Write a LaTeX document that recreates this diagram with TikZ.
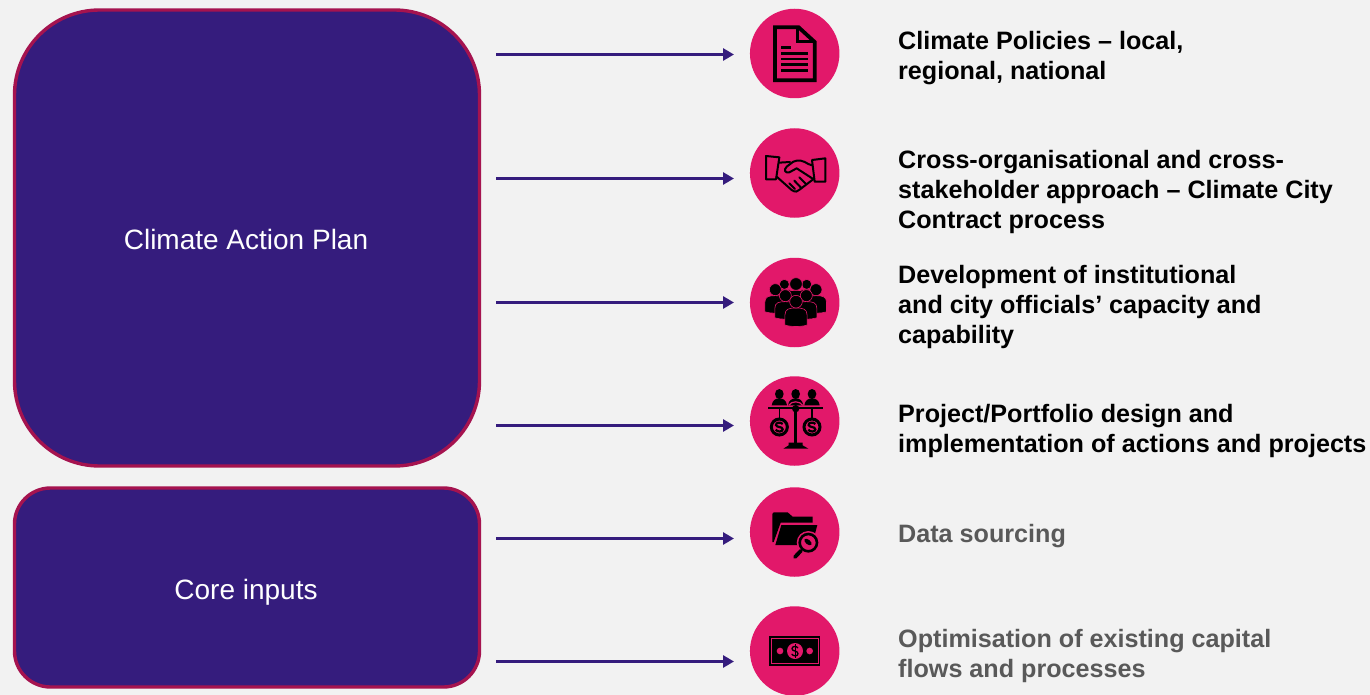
\documentclass[tikz,border=0pt]{standalone}
\usepackage{fontspec}
\setmainfont{Liberation Sans}
\usetikzlibrary{arrows.meta}
\definecolor{bg}{HTML}{F2F2F2}
\definecolor{boxfill}{HTML}{351C7D}
\definecolor{boxedge}{HTML}{A5134F}
\definecolor{pinkc}{HTML}{E2186A}
\definecolor{graytxt}{HTML}{595959}
\tikzset{
  planbox/.style={draw=boxedge,fill=boxfill,line width=3.4pt,minimum width=465pt,inner sep=0pt},
  plantext/.style={text=white,font=\fontsize{28}{32}\selectfont,inner sep=0pt},
  badge/.style={circle,fill=pinkc,minimum size=89.5pt,inner sep=0pt},
  flow/.style={draw=boxfill,line width=3.2pt,-{Triangle[length=11pt,width=12pt]}},
  lab/.style={anchor=west,align=left,inner sep=0pt,font=\fontsize{25.15}{30}\selectfont\bfseries,text=black},
  labgray/.style={lab,text=graytxt},
  ink/.style={draw=black,line cap=butt},
  inkfill/.style={fill=black,draw=none}
}
\newcommand{\prsn}[3]{%
  \path[fill=black,draw=pinkc,line width=.6pt]
    ({#1-1.75*#3},{#2+3.7*#3}) -- ({#1-1.75*#3},{#2+2.1*#3})
    .. controls ({#1-1.75*#3},{#2+1.1*#3}) and ({#1-1*#3},{#2+1*#3}) .. ({#1},{#2+1*#3})
    .. controls ({#1+1*#3},{#2+1*#3}) and ({#1+1.75*#3},{#2+1.1*#3}) .. ({#1+1.75*#3},{#2+2.1*#3})
    -- ({#1+1.75*#3},{#2+3.7*#3})
    .. controls ({#1+.7*#3},{#2+4*#3}) and ({#1-.7*#3},{#2+4*#3}) .. cycle;
  \path[fill=black,draw=pinkc,line width=.6pt] (#1,#2) circle[radius=#3];}
\newcommand{\coin}[2]{%
  \draw[line width=3pt,draw=black,fill=pinkc] (#1,#2) circle[radius=24];
  \draw[line width=2.2pt,draw=black]
    ({#1+10},{#2-9}) .. controls ({#1+4},{#2-16}) and ({#1-11},{#2-14}) .. ({#1-10},{#2-6})
    .. controls ({#1-9},{#2+2}) and ({#1+10},{#2-2}) .. ({#1+10},{#2+7})
    .. controls ({#1+10},{#2+15}) and ({#1-6},{#2+16}) .. ({#1-11},{#2+8});}
\begin{document}
\begin{tikzpicture}[x=1pt,y=-1pt]
\useasboundingbox[fill=bg] (0,0) rectangle (1370,695);
% left panels
\node[planbox,minimum height=456pt,rounded corners=85pt] (plan) at (247,238) {};
\node[plantext] (plantxt) at (246,239) {Climate Action Plan};
\node[planbox,minimum height=199pt,rounded corners=36pt] (core) at (247,587.5) {};
\node[plantext] (coretxt) at (246,592) {Core inputs};
% badges
\node[badge] (b1) at (794.7,53.5) {};
\node[badge] (b2) at (794.7,173) {};
\node[badge] (b3) at (794.7,302.5) {};
\node[badge] (b4) at (794.7,421) {};
\node[badge] (b5) at (794.7,532) {};
\node[badge] (b6) at (794.7,651) {};
% connector ends
\foreach \n/\y in {1/54.5,2/178.5,3/302.5,4/425.5,5/538.5,6/661.5}{
  \coordinate (s\n) at (496,\y);
  \coordinate (e\n) at (734,\y);
  \draw[flow] (s\n) -- (e\n);
}
% labels
\node[lab] (t1) at (898,58) {Climate Policies – local,\\regional, national};
\node[lab] (t2) at (898,191.5) {Cross-organisational and cross-\\stakeholder approach – Climate City\\Contract process};
\node[lab] (t3) at (898,306.5) {Development of institutional\\and city officials’ capacity and\\capability};
\node[lab] (t4) at (898,430.5) {Project/Portfolio design and\\implementation of actions and projects};
\node[labgray] (t5) at (898,536) {Data sourcing};
\node[labgray] (t6) at (898,655.5) {Optimisation of existing capital\\flows and processes};
% icon 1: document
\begin{scope}[shift={(740,0)},scale=1/3]
  \draw[ink,line width=3.8pt,line join=miter] (105,82) -- (176,82) -- (224,126) -- (224,241) -- (105,241) -- cycle;
  \draw[ink,line width=3pt] (171,86) -- (171,126) -- (224,126);
  \draw[ink,line width=2.6pt] (124,143) -- (152,143);
  \foreach \y in {160,177,194,211} \draw[ink,line width=2.6pt] (124,\y) -- (205,\y);
\end{scope}
% icon 2: handshake
\begin{scope}[shift={(740,120)},scale=1/3,line width=2pt,line join=round,line cap=round]
  \draw (78,108) -- (118,112) -- (108,178) -- (78,178) -- cycle;
  \draw (256,115) -- (216,120) -- (224,185) -- (256,185) -- cycle;
  \draw (117,128) -- (150,126);
  \draw (110,170) -- (155,210) .. controls (165,218) and (175,215) .. (180,208) -- (222,176);
  \draw (216,136) -- (205,132) .. controls (190,122) and (175,118) .. (160,125) -- (140,140) .. controls (130,150) and (135,160) .. (148,157) -- (170,145) -- (218,176);
  \draw (148,190) -- (165,207);
  \draw (163,182) -- (183,203);
  \draw (178,172) -- (198,192);
\end{scope}
% icon 3: crowd
\begin{scope}[shift={(740,250)},scale=1/3]
  \prsn{133}{103}{15}
  \prsn{200}{103}{15}
  \prsn{168}{102}{19}
  \prsn{106}{119}{18}
  \prsn{228}{119}{18}
  \prsn{136}{137}{18}
  \prsn{199}{137}{18}
  \prsn{168}{155}{19}
\end{scope}
% icon 4: scales
\begin{scope}[shift={(740,368)},scale=1/3]
  \foreach \x in {118,167,216}{
    \path[inkfill] (\x,78) ellipse[x radius=13,y radius=15];
    \path[inkfill] ({\x-23},112) .. controls ({\x-21},96) and ({\x-10},91) .. (\x,91) .. controls ({\x+10},91) and ({\x+21},96) .. ({\x+23},112) -- cycle;
  }
  \draw[draw=pinkc,line width=1.2pt] (146,112) .. controls (155,98) and (179,98) .. (188,112);
  \draw[ink,line width=2.2pt] (84,120) -- (250,120);
  \draw[ink,line width=3.2pt] (167,120) -- (167,228);
  \path[inkfill] (167,122) circle[radius=11];
  \path[inkfill] (146,224) -- (188,224) -- (188,232) -- (205,242) -- (130,242) -- (146,232) -- cycle;
  \draw[ink,line width=1.2pt] (118,120) -- (118,152);
  \draw[ink,line width=1.2pt] (216,120) -- (216,152);
  \coin{118}{177}
  \coin{216}{177}
\end{scope}
% icon 5: folder with lens
\begin{scope}[shift={(740,480)},scale=1/3]
  \path[inkfill] (97,104) .. controls (97,99) and (99,97) .. (103,97) -- (143,97) -- (158,110) -- (218,110) -- (218,128) -- (122,128) -- (101,186) -- (97,186) -- cycle;
  \path[inkfill] (124,135) -- (232,135) -- (216,195) -- (106,195) -- cycle;
  \draw[draw=pinkc,line width=1.2pt,fill=pinkc] (205,188) circle[radius=33];
  \draw[ink,line width=2.6pt] (205,188) circle[radius=26];
  \draw[ink,line width=3.8pt,line cap=round] (183,212) -- (165,231);
  \path[inkfill,rotate around={-40:(204,186)}] (204,186) ellipse[x radius=13,y radius=7];
\end{scope}
% icon 6: banknote
\begin{scope}[shift={(740,595)},scale=1/3]
  \path[inkfill] (87,124) rectangle (241,213);
  \draw[draw=pinkc,line width=.8pt] (94,131) rectangle (234,206);
  \path[fill=pinkc] (120,168) circle[radius=10];
  \path[fill=pinkc] (209,168) circle[radius=10];
  \path[fill=pinkc] (165,168) circle[radius=24];
  \draw[ink,line width=1.3pt] (174,159) .. controls (170,152) and (156,153) .. (156,161) .. controls (156,170) and (174,166) .. (174,176) .. controls (174,184) and (160,185) .. (155,177);
  \draw[ink,line width=.9pt] (165,148) -- (165,188);
\end{scope}
\end{tikzpicture}
\end{document}
